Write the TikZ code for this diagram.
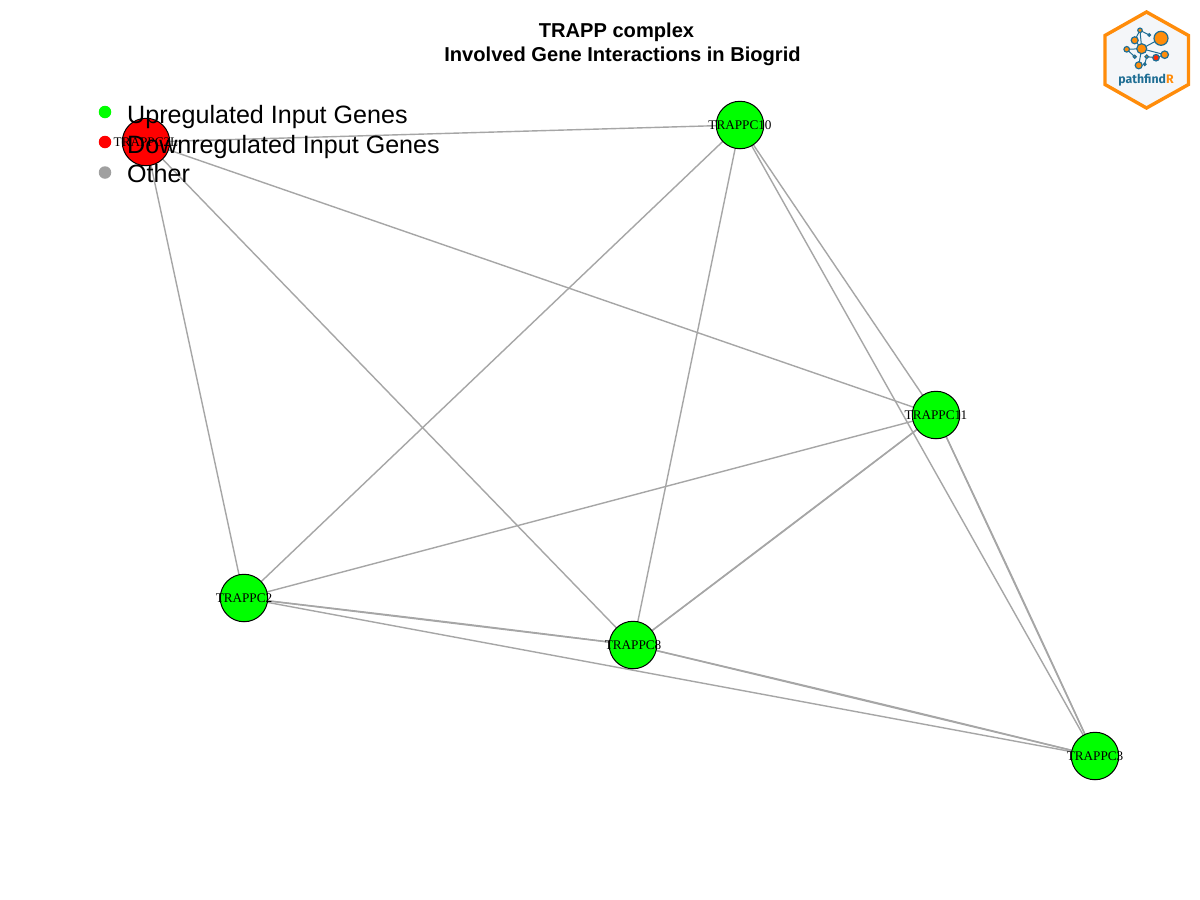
\documentclass[tikz,border=0pt]{standalone}
\usepackage{fontspec}
\setmainfont{Liberation Sans}
\newfontfamily\serifl{Liberation Serif}
\newfontfamily\logof{Fira Sans}
\definecolor{edgegrey}{HTML}{A6A6A6}
\definecolor{legendgrey}{HTML}{A0A0A0}
\definecolor{upgreen}{HTML}{00FF00}
\definecolor{logoorange}{HTML}{FF8C0A}
\definecolor{logoteal}{HTML}{1F6E94}
\definecolor{logobg}{HTML}{F4F6F9}
\tikzset{
  gene/.style={circle,draw=black,line width=1pt,minimum size=47.5pt,inner sep=0pt},
  genelabel/.style={font=\serifl\fontsize{13.2}{13.2}\selectfont,inner sep=0pt,text=black},
  edge/.style={draw=edgegrey,line width=1.4pt},
  legdot/.style={circle,minimum size=12.5pt,inner sep=0pt},
  legtext/.style={font=\fontsize{25.1}{25.1}\selectfont,anchor=base west,inner sep=0pt},
  titletext/.style={font=\bfseries\fontsize{20.1}{20.1}\selectfont,inner sep=0pt},
  lognode/.style={circle,draw=logoteal,line width=1.2pt,fill=logoorange,inner sep=0pt},
  loglink/.style={draw=logoteal,line width=1pt},
}
\begin{document}
\begin{tikzpicture}[x=1pt,y=-1pt]
\useasboundingbox (0,0) rectangle (1200,900);
\fill[white] (0,0) rectangle (1200,900);
% gene positions
\coordinate (pa) at (146,142);
\coordinate (pb) at (740,125);
\coordinate (pc) at (936,415);
\coordinate (pd) at (244,598);
\coordinate (pe) at (633,645);
\coordinate (pf) at (1095,756);
% edges
\path[edge] (pa) -- (pb);
\path[edge] (pa) -- (pc);
\path[edge] (pa) -- (pe);
\path[edge] (pa) -- (pd);
\path[edge] (pb) -- (pd);
\path[edge] (pb) -- (pe);
\path[edge] (pb) -- (pc);
\path[edge] (pb) -- (pf);
\path[edge] (pc) -- (pd);
\path[edge] (pc) -- (pe);
\path[edge] (pc) to[bend left=0.2] (pe);
\path[edge] (pc) -- (pf);
\path[edge] (pc) to[bend left=0.3] (pf);
\path[edge] (pd) -- (pe);
\path[edge] (pd) to[bend left=0.3] (pe);
\path[edge] (pd) -- (pf);
\path[edge] (pe) -- (pf);
\path[edge] (pe) to[bend left=0.3] (pf);
% genes
\node[gene,fill=red] (ga) at (pa) {};
\node[gene,fill=upgreen] (gb) at (pb) {};
\node[gene,fill=upgreen] (gc) at (pc) {};
\node[gene,fill=upgreen] (gd) at (pd) {};
\node[gene,fill=upgreen] (ge) at (pe) {};
\node[gene,fill=upgreen] (gf) at (pf) {};
\node[genelabel] (la) at (ga) {TRAPPC2L};
\node[genelabel] (lb) at (gb) {TRAPPC10};
\node[genelabel] (lc) at (gc) {TRAPPC11};
\node[genelabel] (ld) at (gd) {TRAPPC2};
\node[genelabel] (le) at (ge) {TRAPPC8};
\node[genelabel] (lf) at (gf) {TRAPPC3};
% title
\node[titletext] (t1) at (616.5,32.5) {TRAPP complex};
\node[titletext] (t2) at (622.5,56.5) {Involved Gene Interactions in Biogrid};
% legend
\node[legdot,fill=upgreen] (d1) at (105,112) {};
\node[legdot,fill=red] (d2) at (105,142) {};
\node[legdot,fill=legendgrey] (d3) at (105,172.5) {};
\node[legtext] (e1) at (127,123) {Upregulated Input Genes};
\node[legtext] (e2) at (127,153) {Downregulated Input Genes};
\node[legtext] (e3) at (127,182.5) {Other};
% logo
\draw[draw=logoorange,fill=logobg,line width=3.4pt,line join=miter]
  (1146.5,12) -- (1188.5,35.5) -- (1188.5,84.5) -- (1146.5,108) -- (1105,84.5) -- (1105,35.5) -- cycle;
\coordinate (n1) at (1161,38.3);
\coordinate (n2) at (1141.7,48.7);
\coordinate (n3) at (1134.7,40.3);
\coordinate (n4) at (1140,30.3);
\coordinate (n5) at (1149.3,35);
\coordinate (n6) at (1126.7,49.3);
\coordinate (n7) at (1134.7,56.7);
\coordinate (n8) at (1138.7,65.3);
\coordinate (n9) at (1146.7,56.7);
\coordinate (n10) at (1144.7,64.3);
\coordinate (n11) at (1156,57.7);
\coordinate (n12) at (1164.7,54.7);
\path[loglink] (n2) -- (n1);
\path[loglink] (n2) -- (n3);
\path[loglink] (n3) -- (n4);
\path[loglink] (n4) -- (n5);
\path[loglink] (n4) -- (n2);
\path[loglink] (n2) -- (n6);
\path[loglink] (n6) -- (n7);
\path[loglink] (n2) -- (n8);
\path[loglink] (n2) -- (n12);
\path[loglink] (n9) -- (n10);
\path[loglink] (n9) -- (n11);
\path[loglink] (n11) -- (n12);
\node[lognode,minimum size=14pt] (m1) at (n1) {};
\node[lognode,minimum size=10pt] (m2) at (n2) {};
\node[lognode,minimum size=7pt] (m3) at (n3) {};
\node[lognode,minimum size=4.5pt] (m4) at (n4) {};
\node[lognode,minimum size=2.5pt] (m5) at (n5) {};
\node[lognode,minimum size=5.5pt] (m6) at (n6) {};
\node[lognode,minimum size=3pt] (m7) at (n7) {};
\node[lognode,minimum size=7pt] (m8) at (n8) {};
\node[lognode,minimum size=3.5pt] (m9) at (n9) {};
\node[lognode,minimum size=2.5pt,fill=red!70!orange] (m10) at (n10) {};
\node[lognode,minimum size=6.5pt,fill=red!70!orange] (m11) at (n11) {};
\node[lognode,minimum size=7.5pt] (m12) at (n12) {};
\node[inner sep=0pt,font=\logof\bfseries\fontsize{12.3}{12.3}\selectfont] (logotext) at (1146,80.5)
  {\textcolor{logoteal}{pathfind}\textcolor{logoorange}{R}};
\end{tikzpicture}
\end{document}
